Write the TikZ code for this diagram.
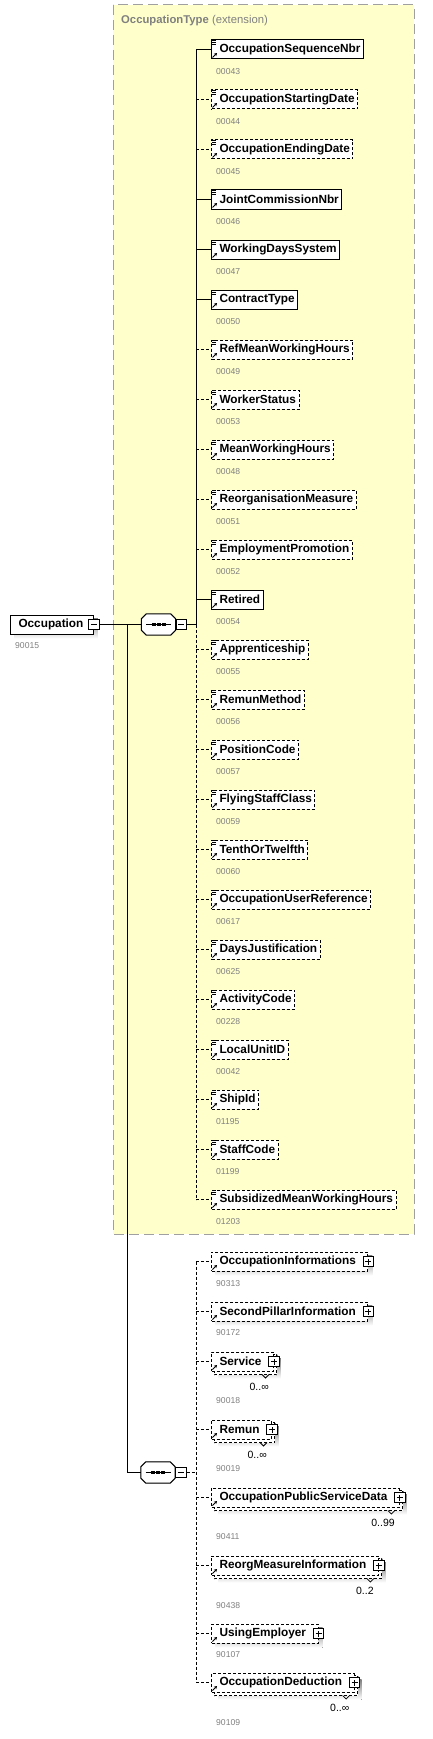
\documentclass[tikz,border=0pt]{standalone}
\usepackage{fontspec}
\setmainfont{Liberation Sans}
\usetikzlibrary{arrows.meta}
\pgfdeclarelayer{behind}
\pgfsetlayers{behind,main}
\definecolor{extfill}{HTML}{FFFFCC}
\definecolor{extline}{HTML}{A0A0A0}
\definecolor{idgray}{HTML}{808080}
\definecolor{shade}{HTML}{C0C0C0}
\tikzset{
  mand/.style={draw, fill=white, line width=1pt, inner xsep=3pt, inner ysep=0pt,
    minimum height=19pt, anchor=west, font=\fontsize{11.8}{14}\selectfont\bfseries},
  opt/.style={mand, dash pattern=on 3pt off 2pt},
  mand link/.style={line width=1pt},
  opt link/.style={line width=1pt, dash pattern=on 3pt off 2pt},
  idtext/.style={anchor=west, text=idgray, inner sep=0pt, font=\fontsize{8.6}{10}\selectfont},
  multtext/.style={anchor=east, inner sep=0pt, font=\fontsize{10.5}{12}\selectfont},
  toggle/.style={draw, fill=white, line width=0.8pt, minimum width=10.5pt,
    minimum height=10.5pt, inner sep=0pt},
  minus/.style={toggle, path picture={\draw[line width=0.8pt]
    ([xshift=-3pt]path picture bounding box.center) -- ([xshift=3pt]path picture bounding box.center);}},
  plus/.style={toggle, path picture={\draw[line width=0.8pt]
    ([xshift=-3pt]path picture bounding box.center) -- ([xshift=3pt]path picture bounding box.center)
    ([yshift=-3pt]path picture bounding box.center) -- ([yshift=3pt]path picture bounding box.center);}},
  seqbox/.style={rectangle, minimum width=34pt, minimum height=21pt, inner sep=0pt},
}
% shadow below a box
\newcommand{\boxshade}[2]{\begin{pgfonlayer}{behind}
  \fill[shade] ([shift={(#2,#2)}]#1.north west) rectangle ([shift={(#2,#2)}]#1.south east);
  \end{pgfonlayer}}
% small icons in the left corner of a box
\newcommand{\typeicon}[1]{\foreach \d in {0,2,4}
  \draw[line width=0.7pt] ([shift={(1.2,\d+0.5)}]#1.north west) -- +(4,0);}
\newcommand{\refarrow}[1]{\draw[line width=1pt, -{Stealth[length=3pt,width=3.5pt]}]
  ([shift={(1.5,-2)}]#1.south west) -- +(4.5,-4.5);}
% sequence compositor drawn round a node
\newcommand{\octpath}[1]{([xshift=5pt]#1.north west) -- ([xshift=-5pt]#1.north east)
  -- ([yshift=-5pt]#1.north east) -- ([yshift=5pt]#1.south east) -- ([xshift=-5pt]#1.south east)
  -- ([xshift=5pt]#1.south west) -- ([yshift=5pt]#1.south west) -- ([yshift=-5pt]#1.north west) -- cycle}
\newcommand{\seqshape}[1]{
  \begin{pgfonlayer}{behind}
  \fill[shade, shift={(4,4)}] \octpath{#1};
  \end{pgfonlayer}
  \draw[line width=1pt, fill=white] \octpath{#1};
  \draw[line width=1pt] ([xshift=-12.5pt]#1.center) -- ([xshift=12.5pt]#1.center);
  \foreach \dx in {-5,0,5}
    \fill ([shift={(\dx-2,-1.75)}]#1.center) rectangle ([shift={(\dx+2,1.75)}]#1.center);}
\begin{document}
\begin{tikzpicture}[x=1pt,y=-1pt]
\useasboundingbox (0,0) rectangle (432,1739);
% OccupationType area
\fill[extfill] (113,5) rectangle (414,1234);
\draw[extline, line width=1pt, dash pattern=on 10pt off 5pt] (113,5) rectangle (414,1234);
\node[anchor=base west, text=idgray, inner sep=0pt, font=\fontsize{11.3}{13}\selectfont]
  (exttitle) at (121,23.5) {\textbf{OccupationType} (extension)};
% Occupation
\node[mand] (occ) at (10,624.5) {\hspace*{5pt}Occupation\hspace*{7pt}};
\boxshade{occ}{4}
\node[minus] (occm) at (occ.east) {};
\node[idtext] (occid) at (15,646) {90015};
% sequences
\node[seqbox] (seqA) at (158.5,624.5) {};
\node[seqbox] (seqB) at (158,1472.5) {};
\seqshape{seqA}
\seqshape{seqB}
\node[minus, anchor=west] (seqAm) at (seqA.east) {};
\node[minus, anchor=west] (seqBm) at (seqB.east) {};
\coordinate (occj) at (127,624.5);
\coordinate (busA) at (196,624.5);
\coordinate (busB) at (196,1472.5);
\draw[mand link] (occm.east) -- (seqA.west);
\draw[mand link] (occj) |- (seqB.west);
\draw[mand link] (seqAm.east) -- (busA);
\draw[opt link] (seqBm.east) -- (busB);
% elements of the first sequence
\foreach \i/\nm/\id/\k in {0/OccupationSequenceNbr/00043/mand, 1/OccupationStartingDate/00044/opt,
    2/OccupationEndingDate/00045/opt, 3/JointCommissionNbr/00046/mand, 4/WorkingDaysSystem/00047/mand,
    5/ContractType/00050/mand, 6/RefMeanWorkingHours/00049/opt, 7/WorkerStatus/00053/opt,
    8/MeanWorkingHours/00048/opt, 9/ReorganisationMeasure/00051/opt, 10/EmploymentPromotion/00052/opt,
    11/Retired/00054/mand, 12/Apprenticeship/00055/opt, 13/RemunMethod/00056/opt,
    14/PositionCode/00057/opt, 15/FlyingStaffClass/00059/opt, 16/TenthOrTwelfth/00060/opt,
    17/OccupationUserReference/00617/opt, 18/DaysJustification/00625/opt, 19/ActivityCode/00228/opt,
    20/LocalUnitID/00042/opt, 21/ShipId/01195/opt, 22/StaffCode/01199/opt,
    23/SubsidizedMeanWorkingHours/01203/opt} {
  \node[\k] (e\i) at (211,49.5+50*\i) {\hspace*{5pt}\nm};
  \boxshade{e\i}{4}
  \typeicon{e\i}
  \refarrow{e\i}
  \node[idtext] (eid\i) at (216,72+50*\i) {\id};
  \coordinate (a\i) at (196,49.5+50*\i);
  \draw[\k\space link] (a\i) -- (e\i.west);
}
\draw[mand link] (a0) -- (busA);
\draw[opt link] (busA) -- (a23);
% elements of the second sequence
\foreach \i/\t/\nm/\id/\dy in {0/1252/OccupationInformations/90313/32, 1/1302/SecondPillarInformation/90172/31,
    2/1352/Service/90018/49, 3/1420/Remun/90019/49, 4/1488/OccupationPublicServiceData/90411/49,
    5/1556/ReorgMeasureInformation/90438/50, 6/1624/UsingEmployer/90107/31,
    7/1673/OccupationDeduction/90109/50} {
  \node[opt] (f\i) at (211,\t+9.5) {\hspace*{5pt}\nm\hspace*{9pt}};
  \boxshade{f\i}{4}
  \refarrow{f\i}
  \node[plus] (fp\i) at (f\i.east) {};
  \node[idtext] (fid\i) at (216,\t+\dy) {\id};
  \coordinate (c\i) at (196,\t+9.5);
  \draw[opt link] (c\i) -- (f\i.west);
}
\draw[opt link] (c0) -- (c7);
% repeated elements
\foreach \j/\m in {2/0..∞, 3/0..∞, 4/0..99, 5/0..2, 7/0..∞} {
  \begin{pgfonlayer}{behind}
  \fill[shade] ([shift={(7,7)}]f\j.north west) rectangle ([shift={(7,7)}]f\j.south east);
  \draw[opt link, fill=white] ([shift={(3,3)}]f\j.north west) rectangle ([shift={(3,3)}]f\j.south east);
  \end{pgfonlayer}
  \draw[line width=0.8pt] ([shift={(-12,3)}]f\j.south east) -- ++(3.5,3.5) -- ++(3.5,-3.5);
  \node[multtext] (mu\j) at ([shift={(-5,15)}]f\j.south east) {\m};
}
\end{tikzpicture}
\end{document}
